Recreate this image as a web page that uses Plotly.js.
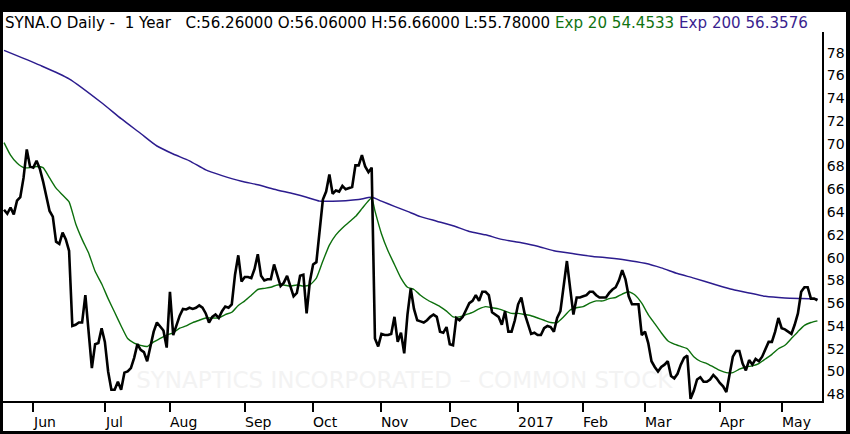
<!DOCTYPE html>
<html>
<head>
<meta charset="utf-8">
<script src="https://cdn.plot.ly/plotly-3.0.1.min.js"></script>
<style>
html,body{margin:0;padding:0;background:#000;width:850px;height:434px;overflow:hidden}
#chart{position:absolute;left:3px;top:12px;width:843px;height:419px;background:#fff}
</style>
</head>
<body>
<div id="chart"></div>
<script>
// ---- data ----
const startDate = '2016-05-18';
const endDate = '2017-05-16';
const marketHolidays = ['2016-05-30','2016-07-04','2016-09-05','2016-11-24','2016-12-26',
  '2017-01-02','2017-01-16','2017-02-20','2017-04-14'];

const closePrices = [
  64.2, 63.85, 64.4, 63.8, 65.0, 65.3, 67.0, 69.5, 68.0, 67.9,
  68.5, 67.8, 66.7, 65.4, 64.1, 63.6, 61.4, 61.2, 62.2, 61.6,
  60.6, 54.0, 54.1, 54.3, 54.3, 56.7, 53.8, 50.3, 52.4, 52.5,
  53.8, 52.6, 50.0, 48.4, 48.4, 49.1, 48.4, 49.9, 50.0, 50.3,
  51.2, 52.4, 51.9, 51.7, 50.9, 52.2, 53.5, 54.3, 53.9, 53.6,
  52.1, 57.0, 53.2, 54.0, 54.9, 55.5, 55.45, 55.6, 55.5, 55.6,
  55.8, 55.6, 55.1, 54.3, 54.8, 55.0, 54.7, 55.3, 55.7, 55.6,
  55.9, 58.5, 60.2, 57.9, 58.3, 58.3, 58.2, 59.0, 60.3, 58.4,
  58.0, 58.1, 58.1, 59.4, 58.4, 57.5, 57.8, 58.4, 57.5, 56.6,
  56.9, 58.4, 58.5, 55.1, 57.9, 59.4, 59.6, 62.6, 65.1, 65.8,
  67.3, 65.6, 65.9, 65.8, 66.3, 66.0, 66.1, 66.2, 68.1, 68.1,
  69.0, 68.0, 67.5, 67.9, 52.9, 52.2, 53.3, 53.2, 53.2, 53.3,
  54.8, 52.6, 53.4, 51.6, 55.0, 57.3, 55.5, 54.5, 54.4, 54.3,
  54.5, 54.8, 55.0, 54.8, 53.5, 53.4, 53.9, 52.4, 52.3, 54.7,
  54.5, 54.8, 55.4, 56.0, 56.2, 56.7, 56.2, 57.0, 57.0, 56.7,
  55.2, 55.0, 54.8, 54.1, 55.3, 53.5, 53.5, 54.5, 55.9, 56.5,
  55.1, 54.2, 53.3, 53.4, 53.2, 53.2, 53.8, 54.0, 53.9, 53.5,
  54.7, 55.3, 57.5, 59.7, 57.3, 55.0, 56.5, 56.5, 56.6, 56.7,
  57.0, 57.0, 56.7, 56.5, 56.5, 56.5, 56.9, 57.2, 57.4, 58.0,
  58.9, 58.1, 56.6, 55.9, 55.9, 55.9, 53.2, 53.5, 52.5, 50.9,
  50.4, 50.0, 50.4, 50.6, 50.9, 49.6, 49.4, 49.8, 50.6, 51.2,
  51.4, 47.6, 48.3, 49.3, 49.5, 49.1, 49.1, 49.3, 49.7, 49.4,
  49.0, 48.7, 48.2, 49.9, 51.3, 51.8, 51.8, 50.7, 50.1, 51.0,
  50.6, 51.1, 50.9, 51.3, 52.0, 52.6, 52.6, 53.5, 54.7, 53.8,
  53.7, 53.5, 53.3, 54.1, 55.1, 57.0, 57.4, 57.4, 56.4, 56.4, 56.26
];

// Exp 20 (trading-day number, value)
const ema20Day = [0,2,4,6,8,10,12,14,16,18,20,22,24,26,28,30,32,34,36,38,40,42,44,46,48,50,
  52,54,56,58,60,62,64,66,68,70,72,74,76,78,80,82,84,86,88,90,92,94,96,98,100,102,104,106,108,110,
  112,113,114,116,118,120,122,124,126,128,130,132,134,136,138,140,142,144,146,148,150,152,154,156,
  158,160,162,164,166,168,170,172,174,176,178,180,182,184,186,188,190,192,194,196,198,200,202,204,
  206,208,210,212,214,216,218,220,222,224,226,228,230,232,234,236,238,240,242,244,246,248,250];
const ema20Values = [70.1,69.0,68.3,67.9,67.9,68.0,67.9,67.0,66.1,65.5,64.9,63.0,61.6,60.4,58.8,57.7,
  56.4,55.2,54.0,52.9,52.5,52.3,52.2,52.6,52.9,53.2,53.4,53.8,54.0,54.3,54.5,54.7,54.7,54.7,55.0,55.2,
  55.8,56.2,56.7,57.2,57.3,57.4,57.6,57.6,57.5,57.6,57.5,57.6,58.2,59.7,61.1,62.0,62.6,63.1,63.6,64.3,
  65.0,65.25,64.1,62.1,60.6,59.4,58.2,57.4,57.2,56.7,56.3,56.0,55.7,55.3,54.8,54.8,55.0,55.2,55.5,55.7,
  55.6,55.5,55.3,55.1,55.1,55.0,54.9,54.7,54.5,54.3,54.3,54.8,55.4,55.6,55.7,56.0,56.2,56.2,56.4,56.5,
  56.8,57.0,56.7,56.0,55.0,54.2,53.4,52.7,52.4,52.2,52.0,51.3,50.9,50.7,50.4,50.1,49.9,49.9,50.2,50.4,
  50.5,50.7,51.1,51.5,52.0,52.3,52.9,53.5,54.05,54.3,54.45];

// Exp 200 (trading-day number, value)
const ema200Day = [0,11,20,30,36,42,47,52,57,62,67,73,78,83,89,93,97,101,105,109,113,116,120,124,128,
  133,138,143,148,153,159,164,169,176,181,186,191,197,202,207,212,219,224,229,234,240,245,250];
const ema200Values = [78.2,76.9,75.7,73.6,72.2,70.9,69.8,69.1,68.5,67.7,67.2,66.7,66.4,66.0,65.6,65.3,
  64.96,64.96,65.0,65.1,65.3,64.96,64.5,64.06,63.6,63.2,62.8,62.3,62.0,61.6,61.3,61.0,60.6,60.3,60.1,
  59.97,59.8,59.5,59.1,58.6,58.2,57.6,57.2,56.9,56.6,56.45,56.4,56.36];

const monthLabels = ['Jun','Jul','Aug','Sep','Oct','Nov','Dec','2017','Feb','Mar','Apr','May'];
const priceTicks = [48,50,52,54,56,58,60,62,64,66,68,70,72,74,76,78];

const titleMain = 'SYNA.O Daily -\u00a0 1 Year\u00a0\u00a0 C:56.26000 O:56.06000 H:56.66000 L:55.78000';
const titleEma20 = 'Exp 20 54.4533';
const titleEma200 = 'Exp 200 56.3576';
const watermark = 'SYNAPTICS INCORPORATED \u2013 COMMON STOCK';

// ---- trading calendar ----
function tradingDays(start, end, holidays) {
  const out = [];
  const p = s => s.split('-').map(Number);
  const [sy, sm, sd] = p(start), [ey, em, ed] = p(end);
  const d = new Date(Date.UTC(sy, sm - 1, sd));
  const e = new Date(Date.UTC(ey, em - 1, ed));
  while (d <= e) {
    const wd = d.getUTCDay();
    const s = d.toISOString().slice(0, 10);
    if (wd !== 0 && wd !== 6 && holidays.indexOf(s) < 0) out.push(s);
    d.setUTCDate(d.getUTCDate() + 1);
  }
  return out;
}
const days = tradingDays(startDate, endDate, marketHolidays);
const monthStarts = [];
for (let i = 1; i < days.length; i++) {
  if (days[i].slice(5, 7) !== days[i - 1].slice(5, 7)) monthStarts.push(days[i]);
}

const FONT = 'DejaVu Sans, Verdana, sans-serif';

const traces = [
  {x: ema200Day.map(i => days[i]), y: ema200Values, type: 'scatter', mode: 'lines',
   line: {color: '#2c1c8e', width: 1.5, shape: 'spline', smoothing: 0.6}, name: 'Exp 200'},
  {x: ema20Day.map(i => days[i]), y: ema20Values, type: 'scatter', mode: 'lines',
   line: {color: '#0c6f0c', width: 1.4, shape: 'spline', smoothing: 0.5}, name: 'Exp 20'},
  {x: days, y: closePrices, type: 'scatter', mode: 'lines',
   line: {color: '#000000', width: 2.6}, name: 'SYNA.O'}
];

const annotations = [{
  xref: 'paper', yref: 'paper', x: 0, y: 1, xanchor: 'left', yanchor: 'middle', yshift: 9,
  showarrow: false, align: 'left',
  text: titleMain + ' <span style="color:#117311">' + titleEma20 + '</span> <span style="color:#3a1f8f">' + titleEma200 + '</span>',
  font: {family: FONT, size: 15.1, color: '#000'}
}];
monthStarts.forEach((d, k) => {
  annotations.push({
    xref: 'x', yref: 'paper', x: d, y: 0, xanchor: 'left', yanchor: 'middle',
    xshift: -2, yshift: -21, showarrow: false, text: monthLabels[k],
    font: {family: FONT, size: 14, color: '#000'}
  });
});

const layout = {
  width: 843, height: 419,
  margin: {l: 0, r: 24, t: 20, b: 30, pad: 0},
  paper_bgcolor: '#ffffff', plot_bgcolor: '#ffffff',
  showlegend: false, hovermode: false,
  xaxis: {
    type: 'category', categoryorder: 'array', categoryarray: days,
    range: [-0.31, 251.4], tickvals: monthStarts, showticklabels: false,
    ticks: 'outside', ticklen: 9, tickwidth: 2, tickcolor: '#000',
    showline: true, linewidth: 2, linecolor: '#000', showgrid: false, zeroline: false, fixedrange: true
  },
  yaxis: {
    side: 'right', range: [47.41, 79.81], tickvals: priceTicks, ticks: '',
    showline: true, linewidth: 2, linecolor: '#000', showgrid: false, zeroline: false,
    tickfont: {family: FONT, size: 14, color: '#000'}, fixedrange: true
  },
  annotations: annotations,
  shapes: [{
    type: 'rect', xref: 'paper', yref: 'paper', x0: 0.2, x1: 0.78, y0: 0.0, y1: 0.122,
    line: {width: 0}, fillcolor: 'rgba(0,0,0,0)', layer: 'below',
    label: {text: watermark, textposition: 'middle center',
            font: {family: FONT, size: 23, color: '#f3f3f3'}}
  }]
};

Plotly.newPlot('chart', traces, layout, {staticPlot: true, displayModeBar: false});
</script>
</body>
</html>
